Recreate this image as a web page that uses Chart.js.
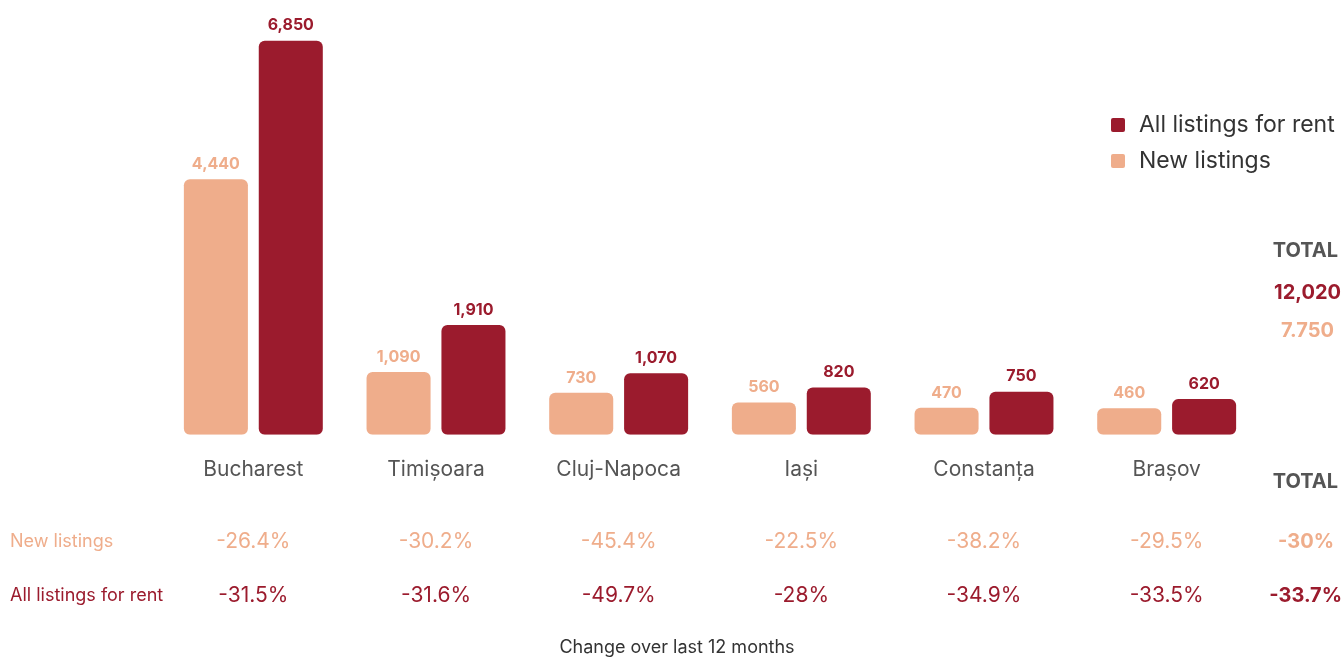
<!DOCTYPE html>
<html lang="en">
<head>
    <meta charset="UTF-8">
    <title>Listings for rent</title>
    <script src="https://cdn.jsdelivr.net/npm/chart.js"></script>
    <style>
        body { margin:0; background:#fff; }
    </style>
</head>
<body>
    <canvas id="myChart" width="1344" height="657"></canvas>

    <script>
        // data
        const categories = ['Bucharest', 'Timișoara', 'Cluj-Napoca', 'Iași', 'Constanța', 'Brașov'];
        const newListings = [4440, 1090, 730, 560, 470, 460];
        const allListings = [6850, 1910, 1070, 820, 750, 620];
        const newChange = ['-26.4%', '-30.2%', '-45.4%', '-22.5%', '-38.2%', '-29.5%'];
        const allChange = ['-31.5%', '-31.6%', '-49.7%', '-28%', '-34.9%', '-33.5%'];
        const totalAll = '12,020';
        const totalNew = '7.750';
        const totalNewChange = '-30%';
        const totalAllChange = '-33.7%';

        const RED = '#9b1b2d';
        const PEACH = '#efad8b';
        const FONT = 'Inter, "Noto Sans", sans-serif';

        // value labels above bars
        const valueLabels = {
            id: 'valueLabels',
            afterDatasetsDraw(chart) {
                const ctx = chart.ctx;
                ctx.save();
                ctx.font = '700 16px ' + FONT;
                ctx.textAlign = 'center';
                ctx.textBaseline = 'bottom';
                chart.data.datasets.forEach((ds, i) => {
                    const meta = chart.getDatasetMeta(i);
                    ctx.fillStyle = ds.backgroundColor;
                    meta.data.forEach((bar, j) => {
                        ctx.fillText(ds.data[j].toLocaleString('en-US'), bar.x, bar.y - 7);
                    });
                });
                ctx.restore();
            }
        };

        // legend, totals and change table
        const extras = {
            id: 'extras',
            afterDraw(chart) {
                const ctx = chart.ctx;
                const x = chart.scales.x;
                ctx.save();
                ctx.textBaseline = 'middle';

                // legend
                const legendItems = [['All listings for rent', RED, 125], ['New listings', PEACH, 161]];
                legendItems.forEach(([label, color, y]) => {
                    ctx.fillStyle = color;
                    ctx.beginPath();
                    ctx.roundRect(1111, y - 7, 14, 14, 2);
                    ctx.fill();
                    ctx.fillStyle = '#333';
                    ctx.font = '400 23px ' + FONT;
                    ctx.textAlign = 'left';
                    ctx.fillText(label, 1139, y);
                });

                // totals
                ctx.textAlign = 'right';
                ctx.font = '700 20px ' + FONT;
                ctx.fillStyle = '#555';
                ctx.fillText('TOTAL', 1338, 251);
                ctx.fillText('TOTAL', 1338, 482);
                ctx.fillStyle = RED;
                ctx.fillText(totalAll, 1341, 293);
                ctx.fillStyle = PEACH;
                ctx.fillText(totalNew, 1334, 331);

                // change rows
                ctx.textAlign = 'left';
                ctx.font = '400 18px ' + FONT;
                ctx.fillStyle = PEACH;
                ctx.fillText('New listings', 10, 542);
                ctx.fillStyle = RED;
                ctx.fillText('All listings for rent', 10, 596);

                ctx.textAlign = 'center';
                ctx.font = '400 21px ' + FONT;
                categories.forEach((c, i) => {
                    const cx = x.getPixelForValue(i);
                    ctx.fillStyle = PEACH;
                    ctx.fillText(newChange[i], cx, 542);
                    ctx.fillStyle = RED;
                    ctx.fillText(allChange[i], cx, 596);
                });

                ctx.textAlign = 'right';
                ctx.font = '700 20px ' + FONT;
                ctx.fillStyle = PEACH;
                ctx.fillText(totalNewChange, 1334, 542);
                ctx.fillStyle = RED;
                ctx.fillText(totalAllChange, 1342, 596);

                ctx.textAlign = 'center';
                ctx.font = '400 18px ' + FONT;
                ctx.fillStyle = '#333';
                ctx.fillText('Change over last 12 months', 677, 648);
                ctx.restore();
            }
        };

        const data = {
            labels: categories,
            datasets: [
                {
                    label: 'New listings',
                    data: newListings,
                    backgroundColor: PEACH,
                    borderRadius: 6,
                    borderSkipped: false,
                    categoryPercentage: 0.82,
                    barPercentage: 0.855
                },
                {
                    label: 'All listings for rent',
                    data: allListings,
                    backgroundColor: RED,
                    borderRadius: 6,
                    borderSkipped: false,
                    categoryPercentage: 0.82,
                    barPercentage: 0.855
                }
            ]
        };

        const options = {
            responsive: false,
            devicePixelRatio: 1,
            animation: false,
            layout: {
                padding: { left: 162, right: 86, top: 32, bottom: 153 }
            },
            plugins: {
                legend: { display: false },
                tooltip: { enabled: false }
            },
            scales: {
                x: {
                    grid: { display: false, drawTicks: false },
                    border: { display: false },
                    ticks: {
                        padding: 22,
                        color: '#555',
                        font: { family: FONT, size: 21, weight: '400' }
                    }
                },
                y: {
                    display: false,
                    min: 0,
                    max: 7000
                }
            }
        };

        const ctx = document.querySelector('#myChart').getContext('2d');
        new Chart(ctx, {
            type: 'bar',
            data: data,
            options: options,
            plugins: [valueLabels, extras]
        });
    </script>
</body>
</html>
